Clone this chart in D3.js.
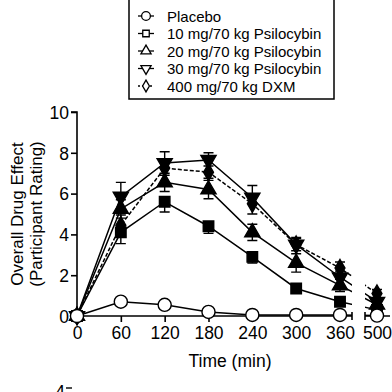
<!DOCTYPE html>
<html><head><meta charset="utf-8">
<script src="https://cdn.jsdelivr.net/npm/d3@7"></script>
<style>body{margin:0;background:#fff}svg{display:block}text{font-family:"Liberation Sans",Arial,sans-serif;fill:#000}</style>
</head><body>
<svg id="c" width="392" height="392"></svg>
<script>
const times = [0, 60, 120, 180, 240, 300, 360, 500];
const seriesNames = ["Placebo", "10 mg/70 kg Psilocybin", "20 mg/70 kg Psilocybin", "30 mg/70 kg Psilocybin", "400 mg/70 kg DXM"];
const placebo = [0, 0.7, 0.55, 0.2, 0.05, 0.05, 0.05, 0.02];
const psi10 = [0, 4.1, 5.6, 4.4, 2.9, 1.35, 0.7, 0.3];
const psi20 = [0, 5.25, 6.55, 6.2, 4.1, 2.6, 1.5, 0.55];
const psi30 = [0, 5.85, 7.5, 7.65, 5.8, 3.5, 1.9, 0.7];
const dxm = [0, 4.45, 7.25, 7.05, 5.5, 3.5, 2.35, 1.1];
const err10 = [0, 0.55, 0.5, 0.35, 0.3, 0.2, 0.15, 0.1];
const err20 = [0, 0.45, 0.45, 0.45, 0.4, 0.45, 0.3, 0.15];
const err30 = [0, 0.7, 0.55, 0.35, 0.6, 0.35, 0.3, 0.2];
const errDxm = [0, 0.5, 0.35, 0.3, 0.5, 0.3, 0.3, 0.2];
const xTicks = [0, 60, 120, 180, 240, 300, 360, 500];
const yTicks = [0, 2, 4, 6, 8, 10];

const svg = d3.select("#c");
const x = d3.scaleLinear().domain([0, 360, 376, 484, 500, 520]).range([77, 340, 352, 365, 377, 392]);
const y = d3.scaleLinear().domain([0, 10]).range([316, 112]);

const defs = svg.append("defs");
const cp = defs.append("clipPath").attr("id", "brk");
cp.append("rect").attr("x", 0).attr("y", 0).attr("width", x(376)).attr("height", 392);
cp.append("rect").attr("x", x(484)).attr("y", 0).attr("width", 392 - x(484)).attr("height", 392);

// y axis
const yAxis = d3.axisLeft(y).tickValues(yTicks).tickSize(6).tickPadding(2);
const gy = svg.append("g").attr("transform", "translate(77,0)").call(yAxis);
gy.select(".domain").attr("stroke-width", 1.6).attr("d", `M-6,${y(10)}H0V${y(0)}`);
gy.selectAll(".tick line").attr("stroke-width", 1.6);
gy.selectAll("text").attr("font-size", 17.5).attr("dy", "0.36em");

// x axis (two segments)
const xAxis = d3.axisBottom(x).tickValues(xTicks).tickSize(6).tickPadding(5);
const gx = svg.append("g").attr("transform", `translate(0,${y(0)})`).call(xAxis);
gx.select(".domain").remove();
gx.selectAll(".tick line").attr("stroke-width", 1.6);
gx.selectAll("text").attr("font-size", 17.5);
gx.append("path").attr("fill", "none").attr("stroke", "#000").attr("stroke-width", 1.6)
  .attr("d", `M${x(0)},0H${x(376)}M${x(376)},-4V4M${x(484)},-4V4M${x(484)},0H390`);

svg.append("text").attr("x", 230).attr("y", 367).attr("text-anchor", "middle").attr("font-size", 17.5).text("Time (min)");
svg.append("text").attr("transform", `translate(23,${y(5)}) rotate(-90)`).attr("text-anchor", "middle").attr("font-size", 17).text("Overall Drug Effect");
svg.append("text").attr("transform", `translate(42,${y(5)}) rotate(-90)`).attr("text-anchor", "middle").attr("font-size", 17).text("(Participant Rating)");

// partial next panel at bottom
svg.append("text").attr("x", 65).attr("y", 398).attr("text-anchor", "end").attr("font-size", 17.5).text("4");
svg.append("line").attr("x1", 66).attr("x2", 72).attr("y1", 388).attr("y2", 388).attr("stroke", "#000").attr("stroke-width", 1.4);

// dir: 1 = up only, -1 = down only, 0 = both
const series = [
  {vals: psi10, err: err10, dir: -1, sym: d3.symbolSquare, size: 110, fill: "#000", dash: null},
  {vals: psi20, err: err20, dir: 0, sym: d3.symbolTriangle, size: 100, fill: "#000", dash: null},
  {vals: dxm, err: errDxm, dir: 0, sym: d3.symbolDiamond, size: 85, fill: "#000", dash: "4,2"},
  {vals: psi30, err: err30, dir: 1, sym: d3.symbolTriangle, size: 100, fill: "#000", dash: null, rot: 180},
  {vals: placebo, err: null, dir: 0, sym: d3.symbolCircle, size: 135, fill: "#fff", dash: null}
];

const plot = svg.append("g").attr("clip-path", "url(#brk)");
const line = d3.line().x((d, i) => x(times[i])).y(d => y(d));

series.forEach(s => {
  const g = svg.append("g");
  if (s.err) s.vals.forEach((v, i) => {
    if (s.err[i] <= 0) return;
    const cx = x(times[i]);
    const y1 = s.dir === 1 ? y(v) : y(v - s.err[i]);
    const y2 = s.dir === -1 ? y(v) : y(v + s.err[i]);
    let d = `M${cx},${y1}V${y2}`;
    if (s.dir !== 1) d += `M${cx - 5},${y1}H${cx + 5}`;
    if (s.dir !== -1) d += `M${cx - 5},${y2}H${cx + 5}`;
    g.append("path").attr("fill", "none").attr("stroke", "#000").attr("stroke-width", 1.4).attr("d", d);
  });
  plot.append("path").datum(s.vals).attr("fill", "none").attr("stroke", "#000").attr("stroke-width", 1.5)
    .attr("stroke-dasharray", s.dash).attr("d", line);
  s.vals.forEach((v, i) => {
    g.append("path").attr("d", d3.symbol(s.sym, s.size)())
      .attr("transform", `translate(${x(times[i])},${y(v)})` + (s.rot ? ` rotate(${s.rot})` : ""))
      .attr("fill", s.fill).attr("stroke", "#000").attr("stroke-width", 1.4);
  });
});

// legend
const lg = svg.append("g");
lg.append("rect").attr("x", 129).attr("y", -1).attr("width", 205).attr("height", 100)
  .attr("fill", "#fff").attr("stroke", "#000").attr("stroke-width", 1.5);
const legendOrder = [
  {sym: d3.symbolCircle, size: 60, dash: null, rot: 0},
  {sym: d3.symbolSquare, size: 42, dash: null, rot: 0},
  {sym: d3.symbolTriangle, size: 45, dash: null, rot: 0},
  {sym: d3.symbolTriangle, size: 45, dash: null, rot: 180},
  {sym: d3.symbolDiamond, size: 40, dash: "2,2", rot: 0}
];
legendOrder.forEach((L, i) => {
  const yy = 16 + i * 17.5;
  lg.append("line").attr("x1", 138).attr("x2", 154).attr("y1", yy).attr("y2", yy)
    .attr("stroke", "#000").attr("stroke-width", 1.3).attr("stroke-dasharray", L.dash);
  lg.append("path").attr("d", d3.symbol(L.sym, L.size)())
    .attr("transform", `translate(146,${yy}) rotate(${L.rot})`)
    .attr("fill", "#fff").attr("stroke", "#000").attr("stroke-width", 1.3);
  lg.append("text").attr("x", 167).attr("y", yy + 5.5).attr("font-size", 15).text(seriesNames[i]);
});
</script>
</body></html>
